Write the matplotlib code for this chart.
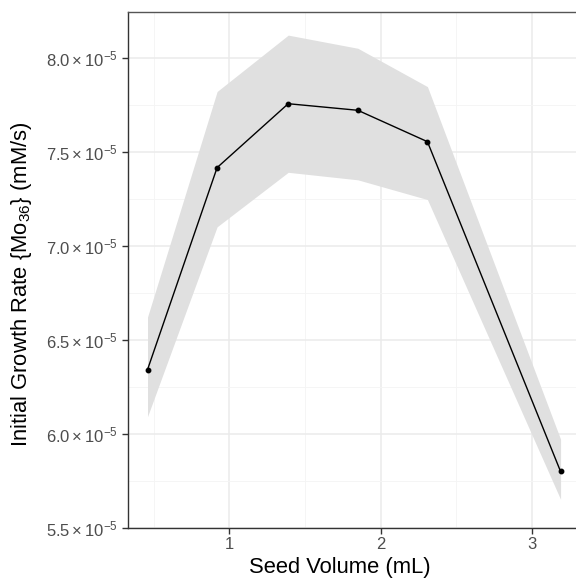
import matplotlib
matplotlib.use("Agg")
import matplotlib.pyplot as plt
from matplotlib.ticker import FixedLocator

plt.rcParams['font.family'] = ['Liberation Sans', 'DejaVu Sans']
plt.rcParams['mathtext.fontset'] = 'custom'
plt.rcParams['mathtext.rm'] = 'Liberation Sans'
plt.rcParams['mathtext.it'] = 'Liberation Sans:italic'

# Daten
seed_volume = [0.46, 0.92, 1.39, 1.85, 2.31, 3.19]
growth_rate = [6.34e-5, 7.415e-5, 7.755e-5, 7.72e-5, 7.553e-5, 5.798e-5]
rate_lower = [6.09e-5, 7.10e-5, 7.39e-5, 7.35e-5, 7.245e-5, 5.65e-5]
rate_upper = [6.62e-5, 7.82e-5, 8.12e-5, 8.05e-5, 7.846e-5, 5.97e-5]

x_ticks = [1, 2, 3]
y_ticks = [5.5e-5, 6.0e-5, 6.5e-5, 7.0e-5, 7.5e-5, 8.0e-5]
y_tick_labels = [r'$5.5\times10^{-5}$', r'$6.0\times10^{-5}$', r'$6.5\times10^{-5}$',
                 r'$7.0\times10^{-5}$', r'$7.5\times10^{-5}$', r'$8.0\times10^{-5}$']

fig = plt.figure(figsize=(5.76, 5.78), dpi=100)
ax = fig.add_axes([128 / 576, 50.5 / 578, 1 - 128 / 576 + 0.01, (527.5 - 12) / 578])

# Konfidenzband + Linie
ax.fill_between(seed_volume, rate_lower, rate_upper, color='#e0e0e0', linewidth=0, zorder=1)
ax.plot(seed_volume, growth_rate, color='black', linewidth=1.0, zorder=3)
ax.plot(seed_volume, growth_rate, 'o', color='black', markersize=3.2, zorder=4)

ax.set_xlim(0.331, 3.33)
ax.set_ylim(5.5e-5, 8.243e-5)

ax.xaxis.set_major_locator(FixedLocator(x_ticks))
ax.xaxis.set_minor_locator(FixedLocator([0.5, 1.5, 2.5, 3.5]))
ax.yaxis.set_major_locator(FixedLocator(y_ticks))
ax.yaxis.set_minor_locator(FixedLocator([5.75e-5, 6.25e-5, 6.75e-5, 7.25e-5, 7.75e-5, 8.25e-5]))
ax.set_yticklabels(y_tick_labels)

# Raster wie theme_bw
ax.grid(True, which='major', color='#ebebeb', linewidth=1.1, zorder=0)
ax.grid(True, which='minor', color='#f4f4f4', linewidth=0.6, zorder=0)
ax.set_axisbelow(True)

ax.tick_params(axis='both', which='major', direction='out', length=4, width=1,
               color='#333333', labelcolor='#4d4d4d', labelsize=12, pad=3)
ax.tick_params(axis='both', which='minor', length=0)

for side in ['left', 'bottom']:
    ax.spines[side].set_color('#333333')
    ax.spines[side].set_linewidth(1.0)
ax.spines['top'].set_color('#555555')
ax.spines['top'].set_linewidth(1.0)
ax.spines['right'].set_visible(False)

ax.set_xlabel('Seed Volume (mL)', fontsize=15.8, va='center')
ax.set_ylabel(r'Initial Growth Rate {Mo$_{36}$} (mM/s)', fontsize=15.8, va='center')
ax.xaxis.set_label_coords(0.466, -0.077)
ax.yaxis.set_label_coords(-0.234, 0.472)

plt.savefig('out.png', dpi=100)
